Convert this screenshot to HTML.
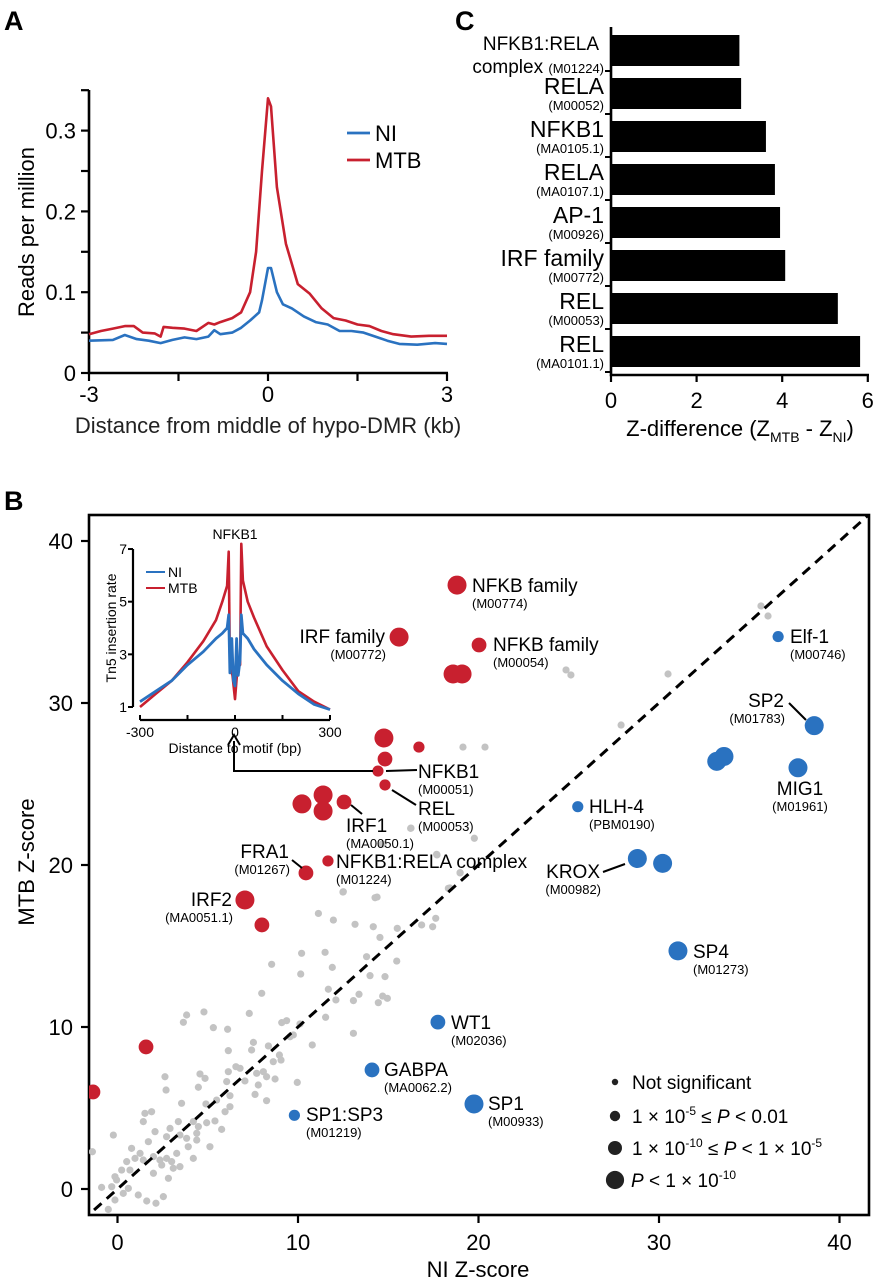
<!DOCTYPE html>
<html><head><meta charset="utf-8">
<style>
html,body{margin:0;padding:0;background:#fff;}
svg{display:block;font-family:"Liberation Sans",Arial,sans-serif;}
</style></head>
<body>
<svg id="fig" width="873" height="1280" viewBox="0 0 873 1280" xmlns="http://www.w3.org/2000/svg">
<defs>
<clipPath id="bclip"><rect x="89" y="515" width="780" height="700"/></clipPath>
</defs>
<text x="4" y="30" font-size="27" font-weight="bold">A</text>
<text x="455" y="30" font-size="27" font-weight="bold">C</text>
<text x="4" y="510" font-size="27" font-weight="bold">B</text>
<g id="pa"></g>
<g id="pc"></g>
<g id="pb"></g>
</svg>
<script>
// ---------- Panel A data ----------
const aMtbX = [-3,-2.8,-2.6,-2.4,-2.25,-2.1,-1.9,-1.8,-1.75,-1.6,-1.4,-1.2,-1.0,-0.9,-0.8,-0.6,-0.45,-0.3,-0.2,-0.1,0,0.05,0.15,0.3,0.5,0.7,0.9,1.1,1.3,1.5,1.7,1.9,2.1,2.4,2.7,3];
const aMtbY = [0.048,0.052,0.055,0.058,0.058,0.05,0.049,0.045,0.057,0.056,0.055,0.052,0.062,0.06,0.063,0.068,0.075,0.1,0.15,0.25,0.34,0.33,0.23,0.16,0.11,0.098,0.08,0.068,0.065,0.06,0.058,0.052,0.048,0.045,0.046,0.046];
const aNiX = [-3,-2.6,-2.4,-2.2,-2.0,-1.8,-1.6,-1.4,-1.2,-1.0,-0.9,-0.8,-0.6,-0.45,-0.3,-0.15,-0.1,0,0.05,0.15,0.25,0.4,0.6,0.8,1.0,1.2,1.4,1.6,1.8,2.0,2.2,2.5,2.8,3];
const aNiY = [0.04,0.041,0.047,0.042,0.04,0.037,0.041,0.044,0.042,0.045,0.053,0.048,0.05,0.056,0.065,0.075,0.09,0.13,0.13,0.1,0.085,0.08,0.07,0.063,0.06,0.052,0.052,0.05,0.045,0.04,0.036,0.035,0.037,0.036];
const aYTicks = [0,0.1,0.2,0.3];
const aXTicks = [-3,0,3];
// ---------- Panel C data ----------
const cNames = ["NFKB1:RELA","RELA","NFKB1","RELA","AP-1","IRF family","REL","REL"];
const cCodes = ["(M01224)","(M00052)","(MA0105.1)","(MA0107.1)","(M00926)","(M00772)","(M00053)","(MA0101.1)"];
const cValues = [3.0,3.04,3.62,3.83,3.95,4.07,5.3,5.82];
const cTicks = [0,2,4,6];
// ---------- Panel B data ----------
const greyX = [16.24,19.77,14.64,17.68,18.98,18.33,12.51,14.27,11.13,11.96,13.16,14.17,15.50,16.85,17.46,17.63,14.54,10.20,11.50,13.80,15.47,8.54,10.15,11.90,13.99,14.82,7.99,11.68,12.10,13.07,13.38,14.45,14.69,14.95,3.83,3.65,4.79,7.30,5.31,6.10,9.10,9.37,10.11,11.53,7.53,7.43,6.14,8.36,8.97,9.06,8.63,9.56,9.74,10.79,13.07,6.56,6.79,6.14,7.71,8.08,8.26,8.73,9.96,2.63,4.57,4.85,4.48,2.69,7.06,7.80,6.05,3.55,4.90,7.62,8.26,5.49,6.23,1.52,1.89,5.96,6.23,4.20,4.48,4.94,5.40,5.77,3.37,1.43,2.08,2.91,2.72,3.46,3.83,4.39,5.12,3.92,4.39,1.71,1.25,0.78,0.97,0.51,1.43,1.99,2.35,2.72,3.28,3.00,2.45,3.09,3.46,4.20,-0.23,-1.39,-0.14,-0.05,-0.32,-0.88,0.60,1.15,0.32,1.62,2.13,2.54,-0.51,-0.14,1.99,2.82,0.69,0.23,19.14,20.36,16.26,14.71,17.70,18.98,18.42,12.49,14.38,35.65,36.04,24.85,25.12,30.50,27.90];
const greyY = [22.26,21.65,21.28,20.66,19.53,18.56,18.35,17.98,17.01,16.60,16.34,16.19,16.09,16.30,16.19,16.71,15.53,14.55,14.61,14.34,14.07,13.87,13.27,13.68,13.17,13.11,12.08,12.33,11.67,11.63,12.02,11.50,11.91,11.77,10.74,10.29,10.93,10.84,9.96,9.86,10.27,10.39,10.19,10.60,9.05,8.58,8.54,8.83,8.27,7.96,7.86,9.40,9.51,8.89,9.61,7.55,7.45,7.24,7.14,7.24,6.93,6.79,6.58,6.93,7.10,6.83,6.28,6.11,6.67,6.42,6.63,5.29,5.25,5.84,5.45,5.49,5.76,4.67,4.77,4.77,5.08,4.16,3.85,4.09,4.20,3.68,4.16,4.16,3.54,3.74,3.23,3.33,3.13,3.02,2.61,2.61,3.44,2.92,2.20,2.51,1.89,1.69,1.79,2.00,1.79,1.89,2.20,1.69,1.48,1.28,1.38,1.89,3.33,2.30,0.76,0.56,0.14,0.10,0.04,-0.37,-0.27,-0.74,-0.88,-0.47,-1.26,-0.68,0.97,0.66,1.17,1.17,27.28,27.28,22.28,21.30,20.62,19.51,18.58,18.33,18.02,35.99,35.37,32.04,31.73,31.79,28.64];
const redX = [-1.36,1.58,7.06,8.0,10.44,11.66,10.22,11.39,11.39,12.55,14.76,16.7,14.82,14.43,14.82,18.59,19.09,20.03,15.6,18.81];
const redY = [5.99,8.77,17.84,16.3,19.51,20.25,23.77,24.32,23.33,23.89,27.84,27.28,26.54,25.8,24.94,31.79,31.79,33.58,34.07,37.28];
const redSize = [2,2,3,2,2,1,3,3,3,2,3,1,2,1,1,3,3,2,3,3];
const blueX = [36.6,38.6,33.2,33.6,37.7,25.5,28.8,30.2,31.05,17.75,14.1,19.75,9.8];
const blueY = [34.1,28.6,26.4,26.7,26.0,23.6,20.4,20.1,14.7,10.3,7.35,5.25,4.55];
const blueSize = [1,3,3,3,3,1,3,3,3,2,2,3,1];
const bTicks = [0,10,20,30,40];
// ---------- Inset data ----------
const insMtbX = [-300,-250,-200,-150,-100,-60,-40,-25,-20,-16,-8,0,8,16,20,25,40,60,100,150,200,250,300];
const insMtbY = [1.0,1.5,2.0,2.7,3.5,4.3,5.0,5.6,6.9,2.5,2.2,1.3,2.5,2.6,7.2,5.8,5.0,4.4,3.3,2.4,1.6,1.2,0.9];
const insNiX = [-300,-250,-200,-150,-100,-60,-40,-25,-20,-16,-10,-5,0,5,10,16,20,25,40,60,100,150,200,250,300];
const insNiY = [1.2,1.6,2.0,2.6,3.1,3.6,3.8,4.0,4.5,2.3,3.6,2.0,1.8,3.6,2.2,2.8,4.5,3.8,3.6,3.2,2.6,2.0,1.5,1.1,0.9];
const insYTicks = [1,3,5,7];
const insXTicks = [-300,0,300];

const NS = "http://www.w3.org/2000/svg";
function mk(parent, tag, attrs, text){
  const e = document.createElementNS(NS, tag);
  for (const k in attrs) e.setAttribute(k, attrs[k]);
  if (text !== undefined) e.textContent = text;
  parent.appendChild(e);
  return e;
}
const RED="#c8202f", BLUE="#2a72c0", GREY="#c3c3c3";

// ================= Panel A =================
(function(){
  const g = document.getElementById('pa');
  const X = v => 89 + (v + 3) * (358/6);
  const Y = v => 373 - v * 808;
  let ax = mk(g,'path',{d:`M89 90 V373 H448`,fill:'none',stroke:'#000','stroke-width':2.6});
  
  
  for (let t=0; t<=0.35001; t+=0.05){
    const tk = mk(g,'line',{x1:81,x2:89,y1:Y(t),y2:Y(t),stroke:'#000','stroke-width':2.2});
    
    
  }
  aYTicks.forEach(t=>{
    const tl = mk(g,'text',{x:76,y:Y(t)+8,'font-size':22,'text-anchor':'end'}, t===0?'0':t.toFixed(1));
    
    
  });
  for (let t=-3; t<=3.001; t+=1.5){
    const tk = mk(g,'line',{x1:X(t),x2:X(t),y1:373,y2:381,stroke:'#000','stroke-width':2.2});
    
    
  }
  aXTicks.forEach(t=>{
    const tl = mk(g,'text',{x:X(t),y:402,'font-size':22,'text-anchor':'middle'}, String(t));
    
    
  });
  const xt = mk(g,'text',{x:268,y:433,'font-size':22,'text-anchor':'middle',fill:'#222'},'Distance from middle of hypo-DMR (kb)');
  
  
  const yt = mk(g,'text',{x:0,y:0,'font-size':22,'text-anchor':'middle',transform:'translate(34,232) rotate(-90)'},'Reads per million');
  
  
  const pts = (xs,ys)=>xs.map((x,i)=>X(x).toFixed(1)+','+Y(ys[i]).toFixed(1)).join(' ');
  const l1 = mk(g,'polyline',{points:pts(aNiX,aNiY),fill:'none',stroke:BLUE,'stroke-width':2.6,'stroke-linejoin':'round'});
  
  
  const l2 = mk(g,'polyline',{points:pts(aMtbX,aMtbY),fill:'none',stroke:RED,'stroke-width':2.6,'stroke-linejoin':'round'});
  
  
  const lg = mk(g,'g',{});
  
  
  mk(lg,'line',{x1:347,x2:370,y1:133,y2:133,stroke:BLUE,'stroke-width':2.8});
  mk(lg,'text',{x:375,y:141,'font-size':22},'NI');
  mk(lg,'line',{x1:347,x2:370,y1:160,y2:160,stroke:RED,'stroke-width':2.8});
  mk(lg,'text',{x:375,y:168,'font-size':22},'MTB');
})();

// ================= Panel C =================
(function(){
  const g = document.getElementById('pc');
  const X = v => 611 + v * 42.8;
  cValues.forEach((v,i)=>{
    const top = 35 + 43*i;
    const b = mk(g,'rect',{x:611,y:top,width:X(v)-611,height:31,fill:'#000'});
    
    
    const c = top + 15;
    if (i===0){
      const n = mk(g,'text',{x:599,y:50,'font-size':19,'text-anchor':'end'},'NFKB1:RELA');
      
      
      const t = mk(g,'text',{x:604,y:73,'font-size':19,'text-anchor':'end'});
      
      
      t.innerHTML = 'complex <tspan font-size="13">'+cCodes[i]+'</tspan>';
    } else {
      const n = mk(g,'text',{x:604,y:c+1,'font-size':23,'text-anchor':'end'},cNames[i]);
      
      
      const t = mk(g,'text',{x:604,y:c+17,'font-size':13,'text-anchor':'end'},cCodes[i]);
      
      
    }
  });
  const ax = mk(g,'path',{d:'M611 27 V375 H869',fill:'none',stroke:'#000','stroke-width':2.6});
  
  
  for (let i=0;i<8;i++){
    const yy = 33 + 43*i + 38;
    const tk = mk(g,'line',{x1:605,x2:611,y1:yy,y2:yy,stroke:'#000','stroke-width':2});
    
    
  }
  cTicks.forEach(t=>{
    const tk = mk(g,'line',{x1:X(t),x2:X(t),y1:375,y2:382,stroke:'#000','stroke-width':2.2});
    
    
    const tl = mk(g,'text',{x:X(t),y:408,'font-size':22,'text-anchor':'middle'},String(t));
    
    
  });
  const tt = mk(g,'text',{x:740,y:436,'font-size':22,'text-anchor':'middle'});
  
  
  tt.innerHTML = 'Z-difference (Z<tspan font-size="14" dy="6">MTB</tspan><tspan dy="-6"> - Z</tspan><tspan font-size="14" dy="6">NI</tspan><tspan dy="-6">)</tspan>';
})();

// ================= Panel B =================
(function(){
  const g = document.getElementById('pb');
  const X = v => 117.5 + v * 18.05;
  const Y = v => 1189 - v * 16.2;
  const R = [3.6,5.6,7.4,9.5];
  const fr = mk(g,'rect',{x:89,y:515,width:780,height:700,fill:'none',stroke:'#000','stroke-width':2.6});
  
  
  bTicks.forEach(t=>{
    const a = mk(g,'line',{x1:X(t),x2:X(t),y1:1215,y2:1223,stroke:'#000','stroke-width':2.2});
    
    
    const al = mk(g,'text',{x:X(t),y:1250,'font-size':22,'text-anchor':'middle'},String(t));
    
    
    const b = mk(g,'line',{x1:81,x2:89,y1:Y(t),y2:Y(t),stroke:'#000','stroke-width':2.2});
    
    
    const bl = mk(g,'text',{x:73,y:Y(t)+8,'font-size':22,'text-anchor':'end'},String(t));
    
    
  });
  const xt = mk(g,'text',{x:478,y:1277,'font-size':22,'text-anchor':'middle'},'NI Z-score');
  
  
  const yt = mk(g,'text',{x:0,y:0,'font-size':22,'text-anchor':'middle',transform:'translate(34,862) rotate(-90)'},'MTB Z-score');
  
  
  const pg = mk(g,'g',{'clip-path':'url(#bclip)'});
  
  
  greyX.forEach((x,i)=>{
    const c = mk(pg,'circle',{cx:X(x),cy:Y(greyY[i]),r:R[0],fill:GREY});
    
    
  });
  const dg = mk(pg,'line',{x1:X(-2),y1:Y(-2),x2:X(42),y2:Y(42),stroke:'#000','stroke-width':3,'stroke-dasharray':'10 7'});
  
  
  redX.forEach((x,i)=>{
    const c = mk(pg,'circle',{cx:X(x),cy:Y(redY[i]),r:R[redSize[i]],fill:RED});
    
    
  });
  blueX.forEach((x,i)=>{
    const c = mk(pg,'circle',{cx:X(x),cy:Y(blueY[i]),r:R[blueSize[i]],fill:BLUE});
    
    
  });
  const lines = [[386,771,417,770],[392,790,416,805],[351,805,362,814],[292,860,302,868],[789,703,806,720],[603,872,625,864]];
  lines.forEach(l=>{
    const e = mk(g,'line',{x1:l[0],y1:l[1],x2:l[2],y2:l[3],stroke:'#000','stroke-width':2});
    
    
  });
  const arr = mk(g,'path',{d:'M373 771 H234 V741',fill:'none',stroke:'#000','stroke-width':2});
  
  
  mk(g,'path',{d:'M228 745 L234 735 L240 745',fill:'none',stroke:'#000','stroke-width':2});
  const labels = [
    ['NFKB family','(M00774)',472,592,'start'],
    ['IRF family','(M00772)',385,643,'end'],
    ['NFKB family','(M00054)',493,651,'start'],
    ['NFKB1','(M00051)',418,778,'start'],
    ['REL','(M00053)',418,815,'start'],
    ['IRF1','(MA0050.1)',346,832,'start'],
    ['NFKB1:RELA complex','(M01224)',336,868,'start'],
    ['FRA1','(M01267)',289,858,'end'],
    ['IRF2','(MA0051.1)',232,906,'end'],
    ['Elf-1','(M00746)',790,643,'start'],
    ['SP2','(M01783)',784,707,'end'],
    ['MIG1','(M01961)',800,795,'middle'],
    ['HLH-4','(PBM0190)',589,813,'start'],
    ['KROX','(M00982)',600,878,'end'],
    ['SP4','(M01273)',693,958,'start'],
    ['WT1','(M02036)',451,1029,'start'],
    ['GABPA','(MA0062.2)',384,1076,'start'],
    ['SP1','(M00933)',488,1110,'start'],
    ['SP1:SP3','(M01219)',306,1121,'start']
  ];
  labels.forEach(l=>{
    const n = mk(g,'text',{x:l[2],y:l[3],'font-size':19,'text-anchor':l[4]},l[0]);
    
    
    const c = mk(g,'text',{x:l[4]==='end'?l[2]+1:l[2],y:l[3]+16,'font-size':13,'text-anchor':l[4]},l[1]);
    
    
  });
  const lg = mk(g,'g',{});
  
  
  const legY = [1082,1116,1148,1180];
  const legT = ['Not significant','1 × 10<tspan font-size="12" dy="-8">-5</tspan><tspan dy="8"> ≤ </tspan><tspan font-style="italic">P</tspan> &lt; 0.01','1 × 10<tspan font-size="12" dy="-8">-10</tspan><tspan dy="8"> ≤ </tspan><tspan font-style="italic">P</tspan> &lt; 1 × 10<tspan font-size="12" dy="-8">-5</tspan>','<tspan font-style="italic">P</tspan> &lt; 1 × 10<tspan font-size="12" dy="-8">-10</tspan>'];
  legY.forEach((y,i)=>{
    mk(lg,'circle',{cx:615,cy:y,r:R[i]-0.4,fill:'#222'});
    const t = mk(lg,'text',{x:i===3?631:632,y:y+7,'font-size':19});
    t.innerHTML = legT[i];
  });
})();

// ================= Inset =================
(function(){
  const g = document.getElementById('pb');
  const X = v => 235 + v * (190/600);
  const Y = v => 707 - (v - 1) * 26.33;
  const ax = mk(g,'path',{d:'M133 549 V707',fill:'none',stroke:'#000','stroke-width':2.2});
  
  
  const axx = mk(g,'path',{d:'M140 720 H330',fill:'none',stroke:'#000','stroke-width':2.2});
  
  
  insYTicks.forEach(t=>{
    mk(g,'line',{x1:128,x2:133,y1:Y(t),y2:Y(t),stroke:'#000','stroke-width':2});
    const tl = mk(g,'text',{x:127,y:Y(t)+5,'font-size':14,'text-anchor':'end'},String(t));
    
    
  });
  [-300,-150,0,150,300].forEach(t=>mk(g,'line',{x1:X(t),x2:X(t),y1:715,y2:720,stroke:'#000','stroke-width':2}));
  insXTicks.forEach(t=>{
    const tl = mk(g,'text',{x:X(t),y:737,'font-size':14,'text-anchor':'middle'},String(t));
    
    
  });
  const xt = mk(g,'text',{x:235,y:753,'font-size':14,'text-anchor':'middle'},'Distance to motif (bp)');
  
  
  const yt = mk(g,'text',{x:0,y:0,'font-size':14,'text-anchor':'middle',transform:'translate(116,628) rotate(-90)'},'Tn5 insertion rate');
  
  
  const tt = mk(g,'text',{x:235,y:539,'font-size':14,'text-anchor':'middle'},'NFKB1');
  
  
  const pts = (xs,ys)=>xs.map((x,i)=>X(x).toFixed(1)+','+Y(ys[i]).toFixed(1)).join(' ');
  const m = mk(g,'polyline',{points:pts(insMtbX,insMtbY),fill:'none',stroke:RED,'stroke-width':2.6,'stroke-linejoin':'round'});
  
  
  const n = mk(g,'polyline',{points:pts(insNiX,insNiY),fill:'none',stroke:BLUE,'stroke-width':2.8,'stroke-linejoin':'round'});
  
  
  const lg = mk(g,'g',{});
  
  
  mk(lg,'line',{x1:146,x2:165,y1:572,y2:572,stroke:BLUE,'stroke-width':2});
  mk(lg,'text',{x:168,y:577,'font-size':14},'NI');
  mk(lg,'line',{x1:146,x2:165,y1:588,y2:588,stroke:RED,'stroke-width':2});
  mk(lg,'text',{x:168,y:593,'font-size':14},'MTB');
})();
</script>
</body></html>
